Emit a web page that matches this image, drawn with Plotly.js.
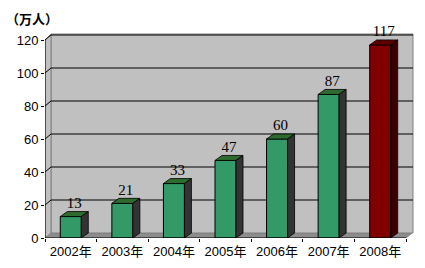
<!DOCTYPE html>
<html><head><meta charset="utf-8">
<script src="https://cdn.plot.ly/plotly-3.0.1.min.js"></script>
<style>html,body{margin:0;padding:0;background:#fff;} #chart{width:425px;height:268px;}</style>
</head><body><div id="chart"></div>
<script>
// ---- data ----
const years = ['2002年','2003年','2004年','2005年','2006年','2007年','2008年'];
const values = [13, 21, 33, 47, 60, 87, 117];
const yTicks = [0, 20, 40, 60, 80, 100, 120];
const unitLabel = '（万人）';

// ---- styles ----
const frontColors = ['#339966','#339966','#339966','#339966','#339966','#339966','#800000'];
const topColors   = ['#2f6a2f','#2f6a2f','#2f6a2f','#2f6a2f','#2f6a2f','#2f6a2f','#5e0000'];
const sideColors  = ['#333333','#333333','#333333','#333333','#333333','#333333','#3a0000'];

const W = 425, H = 268;
const M = {l: 45, r: 11, t: 33, b: 30};
const plotW = W - M.l - M.r;
const plotH = H - M.t - M.b;
const nCat = years.length;
const frontAxisPx = 361;
const pxPerCat = frontAxisPx / nCat;
const xMin = -0.5, xMax = xMin + plotW / pxPerCat;
const pxPerUnit = 198 / 120;
const yMax = plotH / pxPerUnit;
const wallDX = 6 / pxPerCat, wallDY = 5 / pxPerUnit;
const barDX = 7 / pxPerCat, barDY = 5 / pxPerUnit;
const barW = 21 / pxPerCat;
const wallRight = xMin + (plotW - 1) / pxPerCat;
const wallTop = (plotH - 1) / pxPerUnit;
const frontRight = xMin + nCat;
const frontTop = yTicks[yTicks.length - 1];

const idx = years.map((_, i) => i);
const traces = [];
traces.push({
  type: 'bar', x: idx, y: values, width: barW,
  marker: {color: frontColors, line: {color: '#000', width: 1}},
  hoverinfo: 'skip', showlegend: false
});
values.forEach((v, i) => {
  const l = i - barW / 2, r = i + barW / 2;
  traces.push({
    type: 'scatter', mode: 'lines', fill: 'toself', fillcolor: topColors[i],
    x: [l, r, r + barDX, l + barDX, l], y: [v, v, v + barDY, v + barDY, v],
    line: {color: '#000', width: 0.8}, hoverinfo: 'skip', showlegend: false
  });
  traces.push({
    type: 'scatter', mode: 'lines', fill: 'toself', fillcolor: sideColors[i],
    x: [r, r + barDX, r + barDX, r, r], y: [0, barDY, v + barDY, v, 0],
    line: {color: '#000', width: 0.8}, hoverinfo: 'skip', showlegend: false
  });
});
traces.push({
  type: 'scatter', mode: 'text', xaxis: 'x2', yaxis: 'y',
  x: idx.map(i => i + barDX / 2), y: values.map(v => v + barDY),
  text: values.map(String), textposition: 'top center', cliponaxis: false,
  textfont: {family: 'Liberation Serif, serif', size: 15, color: '#000'},
  hoverinfo: 'skip', showlegend: false
});

const shapes = [];
shapes.push({type: 'path', xref: 'x', yref: 'y', layer: 'below',
  path: `M${xMin},0 L${frontRight},0 L${frontRight + wallDX},${wallDY} L${xMin + wallDX},${wallDY} Z`,
  fillcolor: '#8c8c8c', line: {color: '#808080', width: 1}});
shapes.push({type: 'rect', xref: 'x', yref: 'y', layer: 'below',
  x0: xMin + wallDX, x1: wallRight, y0: wallDY, y1: wallTop,
  fillcolor: '#c0c0c0', line: {color: '#808080', width: 1}});
shapes.push({type: 'path', xref: 'x', yref: 'y', layer: 'below',
  path: `M${xMin},0 L${xMin + wallDX},${wallDY} L${xMin + wallDX},${wallTop} L${xMin},${frontTop} Z`,
  fillcolor: '#c0c0c0', line: {color: '#808080', width: 1}});
yTicks.slice(1).forEach(t => {
  if (t + wallDY < wallTop - 0.5) {
    shapes.push({type: 'line', xref: 'x', yref: 'y', layer: 'below',
      x0: xMin + wallDX, x1: wallRight, y0: t + wallDY, y1: t + wallDY,
      line: {color: '#000', width: 1}});
  }
  shapes.push({type: 'line', xref: 'x', yref: 'y', layer: 'below',
    x0: xMin, x1: xMin + wallDX, y0: t, y1: t + wallDY,
    line: {color: '#000', width: 1}});
});
shapes.push({type: 'line', xref: 'x', yref: 'y', layer: 'above',
  x0: xMin, x1: xMin, y0: 0, y1: frontTop, line: {color: '#000', width: 1}});
shapes.push({type: 'line', xref: 'x', yref: 'y', layer: 'above',
  x0: xMin, x1: frontRight, y0: 0, y1: 0, line: {color: '#000', width: 1}});

const bounds = idx.map(i => i - 0.5).concat([frontRight]);
const labelFont = {family: 'Liberation Sans, Noto Sans CJK SC, sans-serif', size: 13, color: '#000'};
const layout = {
  width: W, height: H, margin: M,
  paper_bgcolor: '#fff', plot_bgcolor: '#fff',
  showlegend: false, barmode: 'overlay',
  font: labelFont,
  title: {text: unitLabel, x: 6 / W, xanchor: 'left', xref: 'container',
    y: 1 - 19 / H, yanchor: 'middle', yref: 'container',
    font: {family: 'Noto Sans CJK SC, sans-serif', size: 13, color: '#000', weight: 'bold'}},
  xaxis: {range: [xMin, xMax], tickmode: 'array', tickvals: bounds,
    showticklabels: false, ticks: 'outside', ticklen: 3, tickcolor: '#000',
    showgrid: false, zeroline: false, showline: false, fixedrange: true},
  xaxis2: {overlaying: 'x', anchor: 'y', side: 'bottom', range: [xMin, xMax],
    tickmode: 'array', tickvals: idx, ticktext: years, ticks: '', ticklabelstandoff: 4,
    showgrid: false, zeroline: false, showline: false, fixedrange: true, tickfont: labelFont},
  yaxis: {range: [0, yMax], tickmode: 'array', tickvals: yTicks, ticks: 'outside',
    ticklen: 3, tickcolor: '#000', showgrid: false, zeroline: false, showline: false,
    fixedrange: true, tickfont: labelFont},
  shapes: shapes
};
Plotly.newPlot('chart', traces, layout, {staticPlot: true, displayModeBar: false});
</script></body></html>
